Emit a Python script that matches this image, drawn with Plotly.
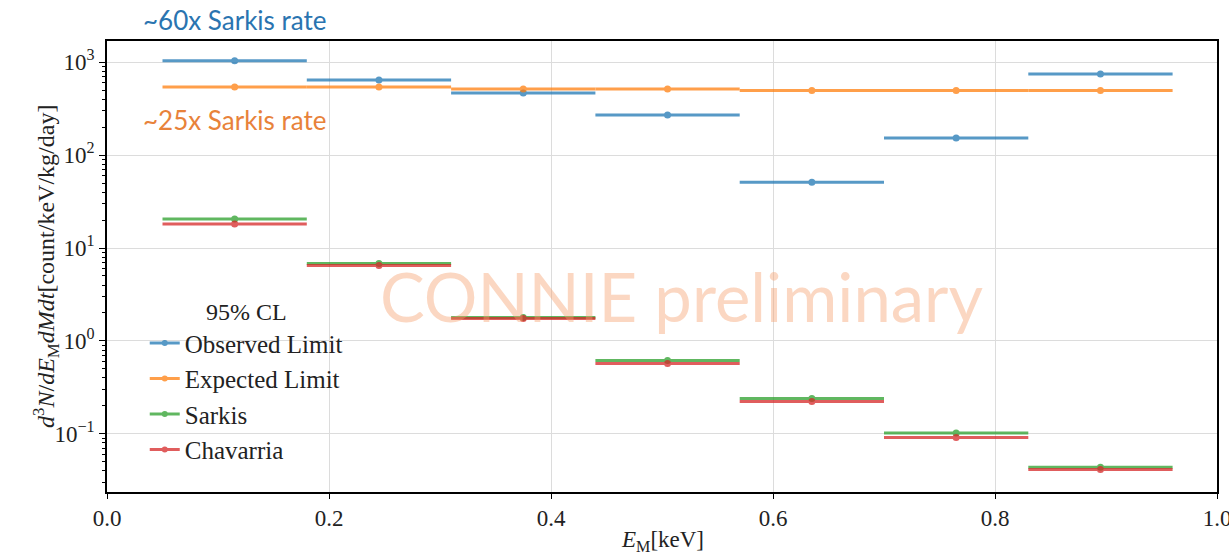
import plotly.graph_objects as go

# ---- data ----
bin_lo = [0.05, 0.18, 0.31, 0.44, 0.57, 0.70, 0.83]
bin_hi = [0.18, 0.31, 0.44, 0.57, 0.70, 0.83, 0.96]
observed = [1030, 640, 464, 269, 51, 152, 743]
expected = [539, 539, 513, 513, 494, 494, 494]
sarkis = [20.5, 6.8, 1.79, 0.617, 0.241, 0.1025, 0.044]
chavarria = [18.1, 6.5, 1.74, 0.573, 0.223, 0.0917, 0.0416]

series_names = ["Observed Limit", "Expected Limit", "Sarkis", "Chavarria"]
series_values = [observed, expected, sarkis, chavarria]
colors = ["#1f77b4", "#ff7f0e", "#2ca02c", "#d62728"]

y_tickvals = [0.1, 1, 10, 100, 1000]
y_ticktext = ["10<sup>−1</sup>", "10<sup>0</sup>", "10<sup>1</sup>", "10<sup>2</sup>", "10<sup>3</sup>"]
y_minor = [m * 10.0 ** e for e in range(-2, 4) for m in range(2, 10)]
x_tickvals = [0.0, 0.2, 0.4, 0.6, 0.8, 1.0]
x_ticktext = ["0.0", "0.2", "0.4", "0.6", "0.8", "1.0"]

centers = [(a + b) / 2 for a, b in zip(bin_lo, bin_hi)]
halfw = [(b - a) / 2 for a, b in zip(bin_lo, bin_hi)]

SERIF = "Liberation Serif"
TXT = "#222222"

fig = go.Figure()
for name, vals, c in zip(series_names, series_values, colors):
    fig.add_trace(go.Scatter(
        x=centers, y=vals, mode="markers", name=name, showlegend=False,
        legendgroup=name, opacity=0.75,
        marker=dict(color=c, size=7),
        error_x=dict(type="data", array=halfw, symmetric=True, color=c,
                     thickness=3, width=0),
    ))
for name, c in zip(series_names, colors):
    fig.add_trace(go.Scatter(
        x=[None], y=[None], mode="lines+markers", name=name, legendgroup=name,
        opacity=0.75, line=dict(color=c, width=3), marker=dict(color=c, size=6),
    ))

fig.add_annotation(xref="paper", yref="paper", x=0.518, y=0.435, text="CONNIE preliminary",
                   showarrow=False, font=dict(family="Lato", size=67, color="rgba(246,160,110,0.42)"))
fig.add_annotation(xref="paper", yref="paper", x=0.031, y=1.047, xanchor="left", yanchor="middle",
                   text="~60x Sarkis rate", showarrow=False,
                   font=dict(family="Lato", size=26, color="#2a74b0"))
fig.add_annotation(xref="paper", yref="paper", x=0.031, y=0.825, xanchor="left", yanchor="middle",
                   text="~25x Sarkis rate", showarrow=False,
                   font=dict(family="Lato", size=26, color="#e8823a"))
# axis titles
fig.add_annotation(xref="paper", yref="paper", x=-0.0555, y=0.5, xanchor="center", yanchor="middle",
                   textangle=-90, showarrow=False,
                   text="<i>d</i><sup>3</sup><i>N</i>/<i>dE</i><sub>M</sub><i>dMdt</i>[count/keV/kg/day]",
                   font=dict(family=SERIF, size=24, color=TXT))
fig.add_annotation(xref="paper", yref="paper", x=0.5, y=-0.108, xanchor="center", yanchor="middle",
                   showarrow=False, text="<i>E</i><sub>M</sub>[keV]",
                   font=dict(family=SERIF, size=23, color=TXT))

fig.update_layout(
    width=1229, height=552,
    margin=dict(l=107, r=12, t=41, b=60),
    paper_bgcolor="white", plot_bgcolor="white",
    font=dict(family=SERIF, size=23, color=TXT),
    legend=dict(x=0.034, y=0.45, xanchor="left", yanchor="top", tracegroupgap=0,
                bgcolor="rgba(255,255,255,0)", itemwidth=30,
                title=dict(text="95% CL", side="top center", font=dict(family=SERIF, size=24)),
                font=dict(family=SERIF, size=25)),
)
fig.update_xaxes(
    range=[0, 1], tickvals=x_tickvals, ticktext=x_ticktext, automargin=False,
    ticklabeloverflow="allow",
    showgrid=True, gridcolor="#dcdcdc", gridwidth=1,
    showline=True, linecolor="black", linewidth=1.5, mirror=True,
    ticks="outside", ticklen=5, tickcolor="black", zeroline=False,
    tickfont=dict(family=SERIF, size=23, color=TXT),
)
fig.update_yaxes(
    type="log", range=[-1.624, 3.226], tickvals=y_tickvals, ticktext=y_ticktext, automargin=False,
    showgrid=True, gridcolor="#dcdcdc", gridwidth=1,
    showline=True, linecolor="black", linewidth=1.5, mirror=True,
    ticks="outside", ticklen=6, tickcolor="black", zeroline=False,
    tickfont=dict(family=SERIF, size=23, color=TXT),
    minor=dict(tickvals=y_minor, ticks="outside", ticklen=3, tickcolor="black", showgrid=False),
)

fig.write_html("out.html", config={"displayModeBar": False},
               post_script="document.body.style.margin='0';document.body.style.overflow='hidden';")
